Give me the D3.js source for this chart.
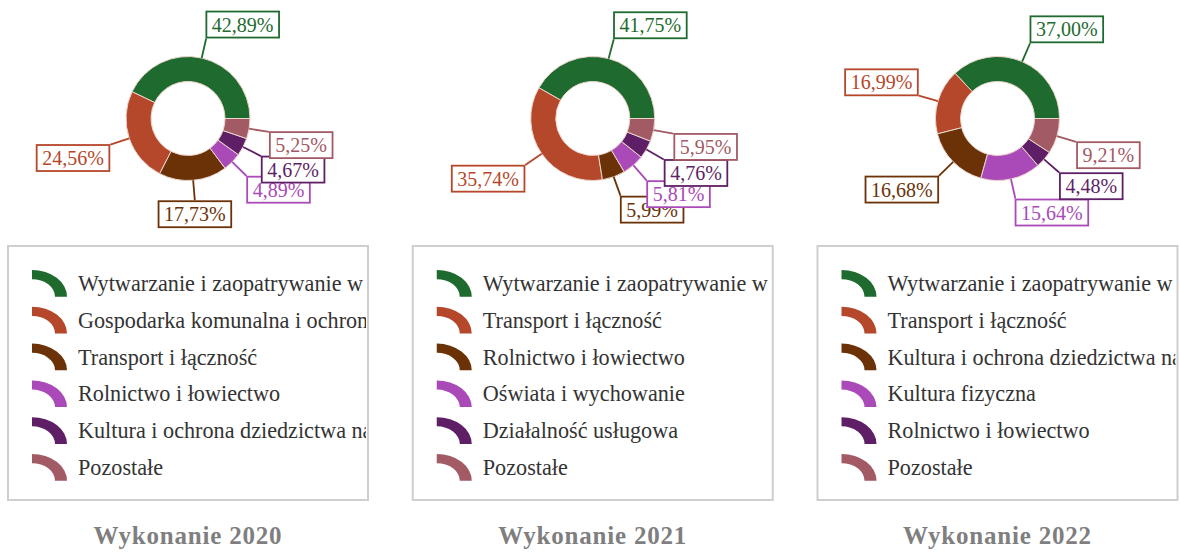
<!DOCTYPE html>
<html>
<head>
<meta charset="utf-8">
<script src="https://cdn.jsdelivr.net/npm/d3@7"></script>
<style>
  html, body { margin: 0; padding: 0; background: #fff; }
  svg { display: block; }
</style>
</head>
<body>
<svg id="chart" width="1180" height="555"></svg>
<script>
// Structure of executed spending by section, three fiscal years
const years = ["2020", "2021", "2022"];
const titles = ["Wykonanie 2020", "Wykonanie 2021", "Wykonanie 2022"];

const categories2020 = [
  "Wytwarzanie i zaopatrywanie w energię elektryczną, gaz i wodę",
  "Gospodarka komunalna i ochrona środowiska",
  "Transport i łączność",
  "Rolnictwo i łowiectwo",
  "Kultura i ochrona dziedzictwa narodowego",
  "Pozostałe"
];
const values2020 = [42.89, 24.56, 17.73, 4.89, 4.67, 5.25];

const categories2021 = [
  "Wytwarzanie i zaopatrywanie w energię elektryczną, gaz i wodę",
  "Transport i łączność",
  "Rolnictwo i łowiectwo",
  "Oświata i wychowanie",
  "Działalność usługowa",
  "Pozostałe"
];
const values2021 = [41.75, 35.74, 5.99, 5.81, 4.76, 5.95];

const categories2022 = [
  "Wytwarzanie i zaopatrywanie w energię elektryczną, gaz i wodę",
  "Transport i łączność",
  "Kultura i ochrona dziedzictwa narodowego",
  "Kultura fizyczna",
  "Rolnictwo i łowiectwo",
  "Pozostałe"
];
const values2022 = [37.00, 16.99, 16.68, 15.64, 4.48, 9.21];

const sliceColors = ["#1f6a2f", "#b5472a", "#6b3208", "#a94ab8", "#5e1f66", "#a25a64"];

const panels = [
  { cats: categories2020, vals: values2020 },
  { cats: categories2021, vals: values2021 },
  { cats: categories2022, vals: values2022 }
];

const serif = "'Liberation Serif', 'Times New Roman', serif";
const svg = d3.select("#chart");
svg.append("rect").attr("width", 1180).attr("height", 555).attr("fill", "#fff");

const centerX = d3.scalePoint().domain(years).range([188, 997.5]);
const centerY = 118.5;
const outerR = 62, innerR = 37, labelR = 83;

const pie = d3.pie().sort(null).value(d => d)
  .startAngle(Math.PI / 2).endAngle(Math.PI / 2 - 2 * Math.PI);
const arc = d3.arc().innerRadius(innerR).outerRadius(outerR);
const iconArc = d3.arc().innerRadius(23).outerRadius(35).startAngle(0).endAngle(Math.PI / 2);
const fmt = v => d3.format(".2f")(v).replace(".", ",") + "%";
const polar = (r, a) => [r * Math.sin(a), -r * Math.cos(a)];

const defs = svg.append("defs");

years.forEach((year, pi) => {
  const p = panels[pi];
  const cx = centerX(year);
  const g = svg.append("g").attr("transform", `translate(${cx},${centerY})`);
  const arcs = pie(p.vals);

  // ring
  g.selectAll("path.slice").data(arcs).join("path")
    .attr("class", "slice")
    .attr("d", arc)
    .attr("fill", (d, i) => sliceColors[i])
    .attr("stroke", "#ecd6cc")
    .attr("stroke-width", 1);

  // leader lines + boxed value labels
  arcs.forEach((d, i) => {
    const a = (d.startAngle + d.endAngle) / 2;
    const s = Math.sin(a), c = Math.cos(a);
    const p0 = polar(outerR, a), p1 = polar(labelR - 1, a), e = polar(labelR, a);
    const col = sliceColors[i];
    const lg = g.append("g");
    lg.append("line")
      .attr("x1", p0[0]).attr("y1", p0[1]).attr("x2", p1[0]).attr("y2", p1[1])
      .attr("stroke", col).attr("stroke-width", 1.8);
    const rect = lg.append("rect");
    const txt = lg.append("text")
      .attr("font-family", serif)
      .attr("font-size", 20)
      .attr("fill", col)
      .text(fmt(d.data));
    const tw = txt.node().getComputedTextLength();
    const w = tw + 11, h = 26;
    let bx;
    if (Math.abs(s) < 0.15) bx = e[0] - w / 2;
    else if (s > 0) bx = e[0];
    else bx = e[0] - w;
    const by = c > 0 ? e[1] - h : e[1];
    rect.attr("x", bx).attr("y", by).attr("width", w).attr("height", h)
      .attr("fill", "#fff").attr("stroke", col).attr("stroke-width", 1.8);
    txt.attr("x", bx + 5.5).attr("y", by + 20);
  });

  // legend: names that overflow the box are cut at its right edge
  const lx = cx - 180, ly = 246, lw = 360, lh = 254;
  const textX = lx + 70, avail = lx + lw - 2 - textX;
  defs.append("clipPath").attr("id", `clip${pi}`)
    .append("rect").attr("x", lx).attr("y", ly).attr("width", lw - 2).attr("height", lh);
  svg.append("rect")
    .attr("x", lx).attr("y", ly).attr("width", lw).attr("height", lh)
    .attr("fill", "#fff").attr("stroke", "#cfcfcf").attr("stroke-width", 2);
  const leg = svg.append("g").attr("clip-path", `url(#clip${pi})`);
  p.cats.forEach((name, i) => {
    const iy = 270 + i * 36.8;
    leg.append("path")
      .attr("d", iconArc())
      .attr("transform", `translate(${lx + 24},${iy + 26.7}) scale(1,0.763)`)
      .attr("fill", sliceColors[i]);
    const t = leg.append("text")
      .attr("x", textX).attr("y", iy + 21)
      .attr("font-family", serif)
      .attr("font-size", 22.2)
      .attr("fill", "#333")
      .text(name);
    // drop the characters that would start beyond the visible edge
    let shown = name;
    while (shown.length > 1) {
      t.text(shown.slice(0, -1));
      if (t.node().getComputedTextLength() >= avail) shown = shown.slice(0, -1);
      else break;
    }
    t.text(shown.trimEnd());
  });

  // panel title
  svg.append("text")
    .attr("x", cx).attr("y", 544)
    .attr("text-anchor", "middle")
    .attr("font-family", serif)
    .attr("font-weight", "bold")
    .attr("font-size", 25)
    .attr("letter-spacing", 0.8)
    .attr("fill", "#7f7f7f")
    .text(titles[pi]);
});
</script>
</body>
</html>
